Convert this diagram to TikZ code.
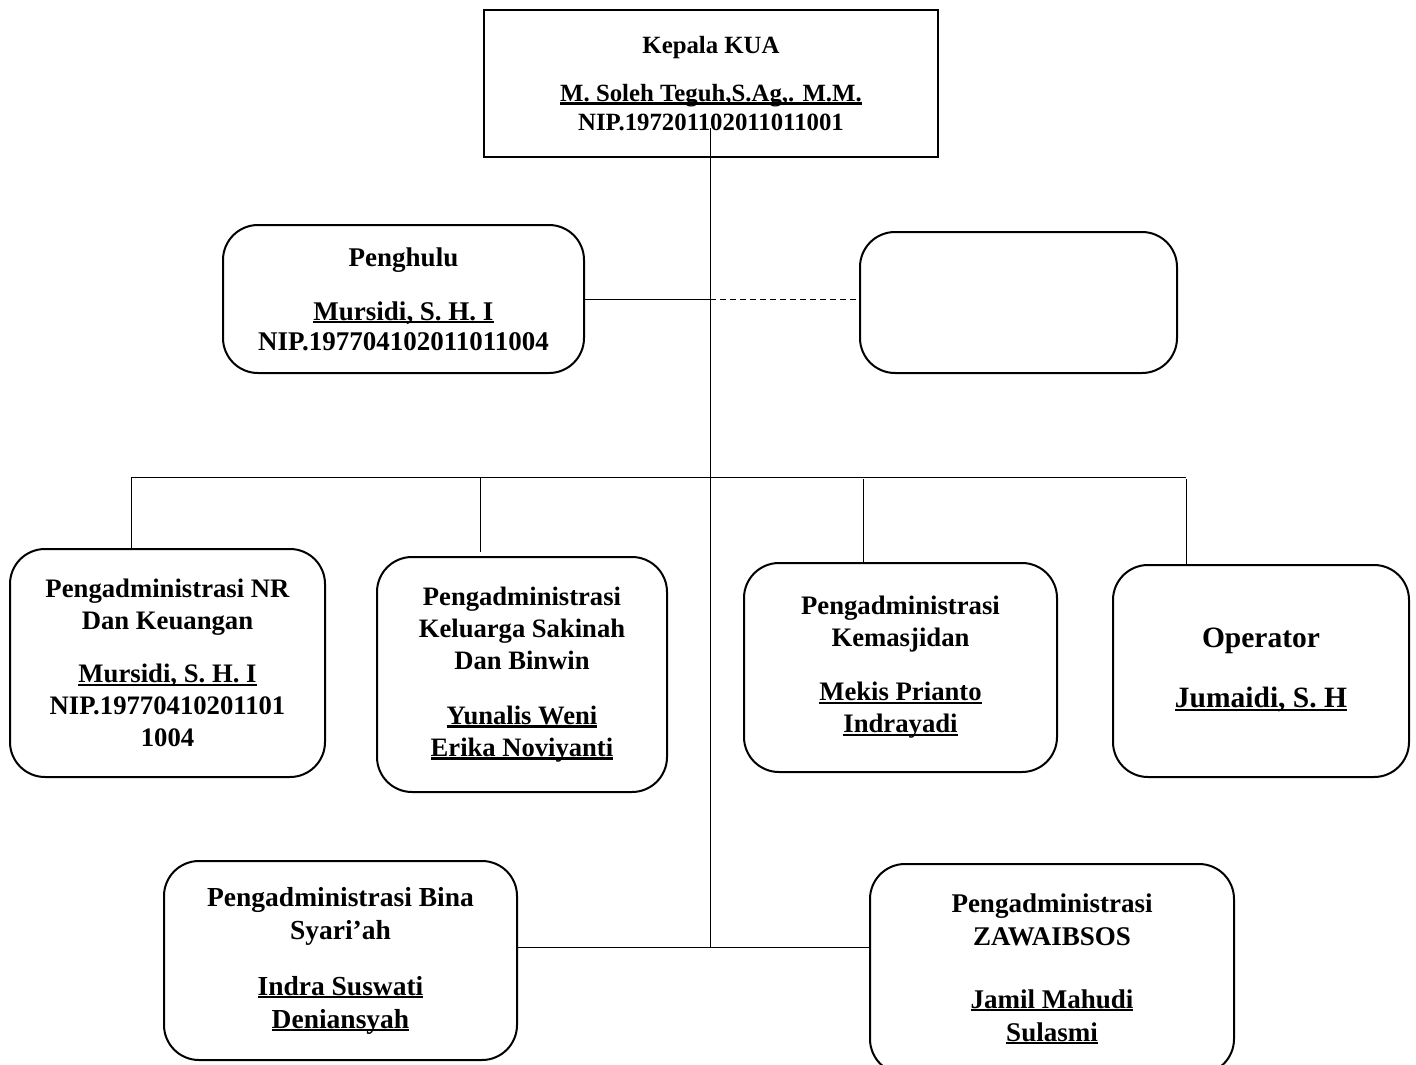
\documentclass[tikz,border=0pt]{standalone}
\usepackage{fontspec}
\setmainfont{Liberation Serif}
\newcommand{\fsz}[2]{\bfseries\fontsize{#1}{#2}\selectfont}
\newcommand{\ulx}[1]{\setbox0\hbox{#1}\rlap{\rule[-3.2pt]{\wd0}{2.2pt}}\box0}
\begin{document}
\begin{tikzpicture}[x=1pt,y=-1pt,
  orgbox/.style={draw,line width=2pt,rounded corners=35pt,inner sep=0pt,align=center},
  headbox/.style={draw,line width=2.2pt,inner sep=0pt,align=center},
  link/.style={line width=1pt}]
\clip (0,0) rectangle (1416,1065);
\fill[white] (0,0) rectangle (1416,1065);
% boxes
\node[headbox,minimum width=454pt,minimum height=147pt,font=\fsz{24.8}{29}] (kepala) at (711,83.5)
  {Kepala KUA\\[19pt]\ulx{M. Soleh Teguh,S.Ag,. M.M.}\\NIP.197201102011011001};
\node[orgbox,minimum width=361pt,minimum height=148pt,font=\fsz{27}{30}] (penghulu) at (403.5,299)
  {Penghulu\\[24pt]\ulx{Mursidi, S. H. I}\\NIP.197704102011011004};
\node[orgbox,minimum width=317pt,minimum height=141pt] (kosong) at (1018.5,302.5) {};
\node[orgbox,minimum width=315pt,minimum height=228pt,font=\fsz{26.7}{32}] (nr) at (167.5,663)
  {Pengadministrasi NR\\Dan Keuangan\\[21pt]\ulx{Mursidi, S. H. I}\\NIP.19770410201101\\1004};
\node[orgbox,minimum width=290pt,minimum height=235pt,font=\fsz{26.6}{32}] (kel) at (522,674.5)
  {Pengadministrasi\\Keluarga Sakinah\\Dan Binwin\\[23pt]\ulx{Yunalis Weni}\\\ulx{Erika Noviyanti}};
\node[orgbox,minimum width=313pt,minimum height=209pt,font=\fsz{26.7}{32}] (masjid) at (900.5,667.5)
  {Pengadministrasi\\Kemasjidan\\[22pt]\ulx{Mekis Prianto}\\\ulx{Indrayadi}};
\node[orgbox,minimum width=296pt,minimum height=212pt,font=\fsz{29.5}{34}] (operator) at (1261,671)
  {\mbox{}\\[-16pt]Operator\\[26pt]\ulx{Jumaidi, S. H}};
\node[orgbox,minimum width=353pt,minimum height=199pt,font=\fsz{27.5}{33}] (bina) at (340.5,960.5)
  {Pengadministrasi Bina\\Syari’ah\\[23pt]\ulx{Indra Suswati}\\\ulx{Deniansyah}};
\node[orgbox,minimum width=364pt,minimum height=210pt,font=\fsz{27}{33}] (zaw) at (1052,969)
  {Pengadministrasi\\ZAWAIBSOS\\[30pt]\ulx{Jamil Mahudi}\\\ulx{Sulasmi}};
% connectors
\coordinate (trunkTop) at (710,128);
\coordinate (trunkBot) at (710,947);
\coordinate (busL) at (131,477);
\coordinate (busK) at (480,477);
\coordinate (busM) at (863,477);
\coordinate (busR) at (1186,477);
\draw[link] (trunkTop) -- (trunkBot);
\draw[link] (penghulu.east) -- (penghulu.east -| trunkTop);
\draw[link,dash pattern=on 6pt off 4pt] (penghulu.east -| trunkTop) -- (penghulu.east -| kosong.west);
\draw[link] (busL) -- (busR);
\draw[link] (busL) -- (busL |- nr.north);
\draw[link] (busK) -- ([yshift=4pt]busK |- kel.north);
\draw[link] ([yshift=-2pt]busM) -- (busM |- masjid.north);
\draw[link] ([yshift=-2pt]busR) -- (busR |- operator.north);
\draw[link] (bina.east |- trunkBot) -- (zaw.west |- trunkBot);
\end{tikzpicture}
\end{document}
